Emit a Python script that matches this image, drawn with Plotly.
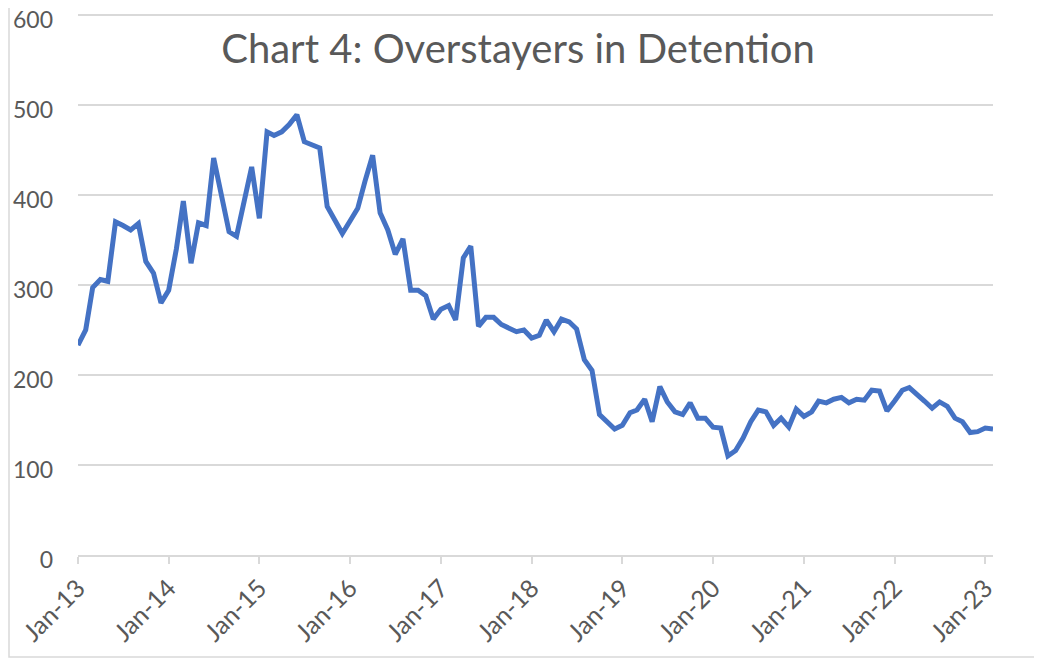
import plotly.graph_objects as go
import pandas as pd

title_text = "Chart 4: Overstayers in Detention"

months = pd.date_range("2013-01-01", periods=122, freq="MS")

overstayers = [
    233, 250, 297, 306, 304, 370, 366, 361, 368, 326, 313, 280,   # 2013
    294, 340, 393, 324, 369, 366, 441, 400, 359, 354, 393, 431,   # 2014
    374, 470, 466, 470, 478, 489, 459, 456, 452, 387, 372, 357,   # 2015
    371, 385, 415, 444, 380, 361, 334, 351, 294, 294, 288, 262,   # 2016
    273, 277, 261, 330, 343, 254, 264, 264, 256, 252, 248, 250,   # 2017
    241, 244, 261, 248, 262, 259, 251, 217, 205, 156, 148, 140,   # 2018
    144, 158, 161, 173, 148, 187, 170, 159, 156, 169, 152, 152,   # 2019
    142, 141, 110, 116, 130, 148, 161, 159, 144, 152, 142, 162,   # 2020
    154, 159, 171, 169, 173, 175, 169, 173, 172, 183, 182, 160,   # 2021
    171, 183, 186, 179, 171, 163, 170, 165, 152, 148, 136, 137,   # 2022
    141, 140,                                                     # 2023
]

y_ticks = [0, 100, 200, 300, 400, 500, 600]
Y_MAX = 602

FONT = "Lato, 'Open Sans', sans-serif"
GRAY_TEXT = "#595959"
GRID = "#d9d9d9"

W, H = 1034, 654          # page body has an 8px margin
PX_PER_UNIT = 0.9
BOTTOM_FIG = 547          # fig-pixel of y = 0
L, R = 70, 49
B = H - BOTTOM_FIG
PH = PX_PER_UNIT * Y_MAX
T = BOTTOM_FIG - PH
PW = W - L - R

fig = go.Figure()
fig.add_trace(go.Scatter(
    x=months, y=overstayers, mode="lines",
    line=dict(color="#4472C4", width=5),
    showlegend=False, hoverinfo="x+y",
))

fig.update_layout(
    width=W, height=H,
    margin=dict(l=L, r=R, t=T, b=B, pad=0),
    paper_bgcolor="white", plot_bgcolor="white",
    font=dict(family=FONT, color=GRAY_TEXT),
    title=dict(text=title_text, x=510 / W, xanchor="center", xref="container",
               y=1 - 41 / H, yanchor="middle", yref="container",
               font=dict(size=40, color=GRAY_TEXT, family=FONT)),
    xaxis=dict(
        type="date", automargin=False,
        range=[months[0], months[-1]],
        tick0="2013-01-01", dtick="M12", tickformat="%b-%y",
        tickangle=-45,
        ticks="outside", ticklen=7, tickcolor=GRID, tickwidth=1.5,
        showline=True, linecolor=GRID, linewidth=1.5,
        showgrid=False, zeroline=False,
        ticklabeloverflow="allow",
        tickfont=dict(size=25, color=GRAY_TEXT),
    ),
    yaxis=dict(
        range=[0, Y_MAX], tickvals=y_ticks, automargin=False,
        showgrid=True, gridcolor=GRID, gridwidth=1.5,
        zeroline=False, showline=False, ticks="",
        ticklabelstandoff=24, ticklabeloverflow="allow",
        ticklabelshift=5,
        tickfont=dict(size=23, color=GRAY_TEXT),
    ),
    shapes=[dict(
        type="rect", xref="paper", yref="paper",
        x0=(1 - L) / PW, x1=(1029 - L) / PW,
        y0=(BOTTOM_FIG - 649) / PH, y1=(BOTTOM_FIG + 2) / PH,
        line=dict(color=GRID, width=1.5), fillcolor="rgba(0,0,0,0)", layer="below",
    )],
)

fig.write_html("out.html")
